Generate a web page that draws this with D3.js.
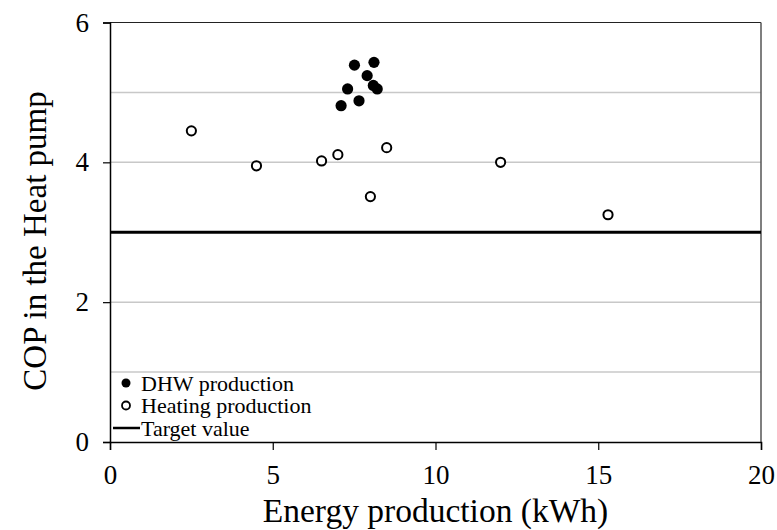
<!DOCTYPE html>
<html>
<head>
<meta charset="utf-8">
<script src="https://cdn.jsdelivr.net/npm/d3@7"></script>
<style>
body { margin: 0; background: #fff; }
svg { display: block; }
svg text { font-family: 'Liberation Serif', Tinos, 'Nimbus Roman', 'DejaVu Serif'; }
</style>
</head>
<body>
<div id="chart"></div>
<script>
// DHW production (filled)
const dhwX = [7.10, 7.30, 7.51, 7.65, 7.90, 8.09, 8.11, 8.21];
const dhwY = [4.81, 5.05, 5.39, 4.88, 5.24, 5.10, 5.43, 5.05];
// Heating production (open)
const heatX = [2.5, 4.5, 6.5, 7.0, 8.0, 8.5, 12.0, 15.3];
const heatY = [4.45, 3.95, 4.02, 4.11, 3.51, 4.21, 4.00, 3.25];
const targetValue = 3;
const xTicks = [0, 5, 10, 15, 20];
const yTicks = [0, 2, 4, 6];
const yGrid = [1, 2, 4, 5];
const legendLabels = ["DHW production", "Heating production", "Target value"];

const width = 777, height = 530;
const margin = { top: 22.5, right: 16, bottom: 88, left: 110 };

const svg = d3.select("#chart").append("svg")
    .attr("width", width)
    .attr("height", height);

const x = d3.scaleLinear().domain([0, 20]).range([margin.left, width - margin.right]);
const y = d3.scaleLinear().domain([0, 6]).range([height - margin.bottom, margin.top]);

// grid
svg.append("g").selectAll("line").data(yGrid).join("line")
    .attr("x1", x(0)).attr("x2", x(20))
    .attr("y1", d => y(d)).attr("y2", d => y(d))
    .attr("stroke", "#c8c8c8").attr("stroke-width", 1.5);

// frame top/right
svg.append("line").attr("x1", x(0)).attr("x2", x(20)).attr("y1", y(6)).attr("y2", y(6))
    .attr("stroke", "#222").attr("stroke-width", 1.2);
svg.append("line").attr("x1", x(20)).attr("x2", x(20)).attr("y1", y(6)).attr("y2", y(0))
    .attr("stroke", "#555").attr("stroke-width", 1.5);

// target line
svg.append("line")
    .attr("x1", x(0)).attr("x2", x(20))
    .attr("y1", y(targetValue)).attr("y2", y(targetValue))
    .attr("stroke", "#000").attr("stroke-width", 3);

// axes
const xAxis = svg.append("g")
    .attr("transform", `translate(0,${y(0)})`)
    .call(d3.axisBottom(x).tickValues(xTicks).tickFormat(d3.format("d")).tickSize(8).tickPadding(10));
const yAxis = svg.append("g")
    .attr("transform", `translate(${x(0)},0)`)
    .call(d3.axisLeft(y).tickValues(yTicks).tickFormat(d3.format("d")).tickSize(7).tickPadding(14));

[xAxis, yAxis].forEach(g => {
    g.attr("font-family", null).attr("font-size", 27);
    g.select(".domain").attr("stroke", "#000").attr("stroke-width", 1.5);
    g.selectAll(".tick line").attr("stroke", "#000").attr("stroke-width", 1.2);
    g.selectAll(".tick text").attr("fill", "#000");
});
xAxis.selectAll(".tick text").attr("dy", "0.9em");

// points
const dhw = dhwX.map((v, i) => ({ x: v, y: dhwY[i] }));
const heat = heatX.map((v, i) => ({ x: v, y: heatY[i] }));

svg.append("g").selectAll("circle").data(heat).join("circle")
    .attr("cx", d => x(d.x)).attr("cy", d => y(d.y)).attr("r", 4.6)
    .attr("fill", "#fff").attr("stroke", "#000").attr("stroke-width", 2);

svg.append("g").selectAll("circle").data(dhw).join("circle")
    .attr("cx", d => x(d.x)).attr("cy", d => y(d.y)).attr("r", 5.6)
    .attr("fill", "#000");

// legend
const lg = svg.append("g").attr("transform", "translate(113,383)");
const rowH = 22.5;
lg.append("circle").attr("cx", 13).attr("cy", 0).attr("r", 4.5).attr("fill", "#000");
lg.append("circle").attr("cx", 13).attr("cy", rowH).attr("r", 4)
    .attr("fill", "#fff").attr("stroke", "#000").attr("stroke-width", 1.8);
lg.append("line").attr("x1", 0).attr("x2", 27).attr("y1", rowH * 2).attr("y2", rowH * 2)
    .attr("stroke", "#000").attr("stroke-width", 2.5);
lg.selectAll("text").data(legendLabels).join("text")
    .attr("x", 28).attr("y", (d, i) => i * rowH)
    .attr("dy", "0.35em")
    .attr("font-size", 22)
    .text(d => d);

// axis titles
svg.append("text")
    .attr("x", (x(0) + x(20)) / 2).attr("y", 522)
    .attr("text-anchor", "middle").attr("font-size", 33.5)
    .text("Energy production (kWh)");
svg.append("text")
    .attr("transform", `translate(46,241) rotate(-90)`)
    .attr("text-anchor", "middle").attr("font-size", 33)
    .text("COP in the Heat pump");
</script>
</body>
</html>
